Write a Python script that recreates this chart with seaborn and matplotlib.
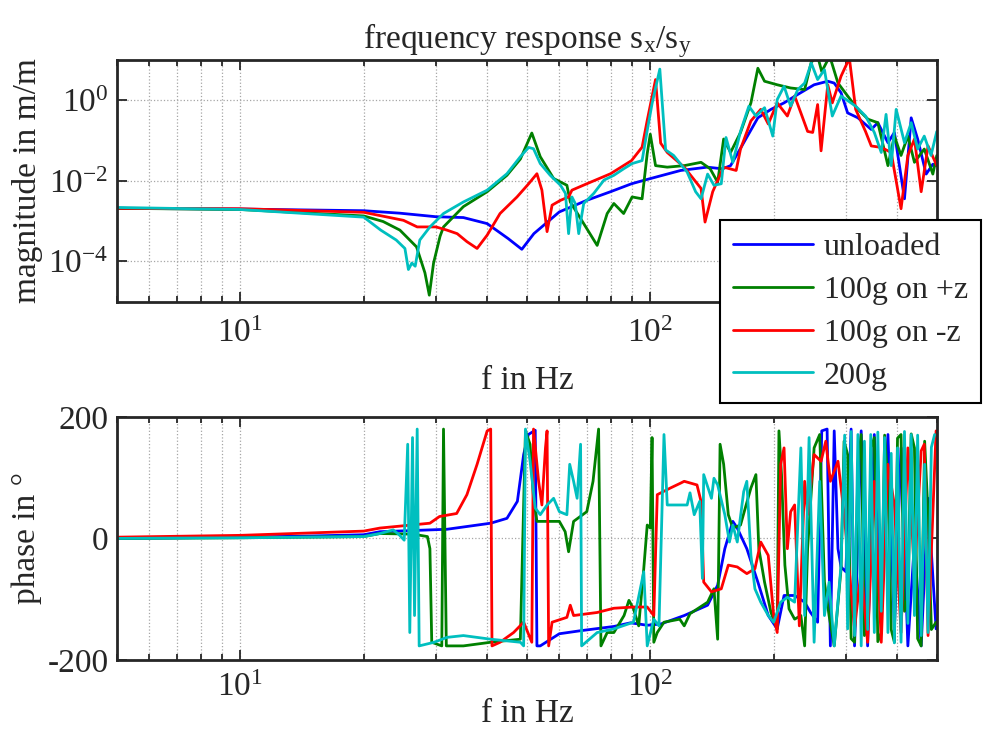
import pandas as pd
import seaborn as sns
import matplotlib.pyplot as plt
from matplotlib.ticker import FixedLocator, NullLocator, LogLocator, NullFormatter

# --- magnitude |s_x/s_y| ---
f_mag_unloaded = [5, 7, 10, 14, 20, 24.5, 30, 35, 40, 45, 48.6, 52, 60, 70, 80, 90, 97.6, 118.6,
                  137.7, 150, 157, 169, 183, 197, 212, 229, 251, 271, 281, 292, 303, 321, 346, 359,
                  380, 394, 417, 433, 449, 471, 489, 500]
mag_unloaded = [2.09e-3, 2.04e-3, 2.0e-3, 1.91e-3, 1.82e-3, 1.58e-3, 1.29e-3, 1.23e-3, 8.7e-4, 3.7e-4,
                2.0e-4, 4.9e-4, 1.7e-3, 3.3e-3, 5.4e-3, 8.5e-3, 1.07e-2, 1.82e-2, 2.2e-2, 2.0e-2,
                2.4e-2, 8.9e-2, 0.37, 0.60, 0.87, 1.41, 2.45, 3.0, 2.7, 1.55,
                0.49, 0.37, 0.19, 0.28, 8.9e-2, 0.16, 3.6e-3, 0.37, 0.11, 1.48e-2, 2.6e-2, 2.4e-2]

f_mag_plus = [5, 10, 20, 22.3, 24.5, 26.9, 28.2, 28.9, 29.6, 30.7, 31.3, 35, 40, 44.7, 48.2, 51.4,
              53.9, 58.1, 62.6, 63.8, 68.8, 74.2, 78.5, 81.5, 86.1, 90.3, 95.5, 98.3, 100, 103,
              110, 121, 133, 140, 146, 151, 157, 166, 176, 183, 190, 204, 220, 238, 247, 256, 262,
              274, 287, 303, 321, 340, 359, 380, 394, 409, 425, 441, 466, 489, 500]
mag_plus = [2.09e-3, 1.95e-3, 1.35e-3, 9.8e-4, 6.0e-4, 2.3e-4, 5.2e-5, 1.45e-5, 9.1e-5, 4.2e-4,
            7.2e-4, 2.3e-3, 5.4e-3, 1.38e-2, 3.5e-2, 0.155, 4.0e-2, 1.15e-2, 7.8e-3, 3.0e-3,
            8.7e-4, 2.5e-4, 1.55e-3, 2.75e-3, 1.55e-3, 4.0e-3, 3.6e-3, 4.8e-2, 0.145, 2.4e-2,
            2.2e-2, 2.4e-2, 2.9e-2, 2.0e-2, 9.3e-3, 0.11, 5.1e-2, 0.16, 0.87, 6.3,
            3.0, 2.45, 2.04, 1.86, 8.9, 12.6, 5.2, 12.6, 2.7, 1.29,
            0.60, 0.34, 0.28, 2.4e-2, 0.13, 4.3e-2, 0.13, 2.9e-2, 6.2e-2, 1.48e-2, 4.3e-2]

f_mag_minus = [5, 10, 20, 25, 27, 30, 31.9, 33.8, 35.7, 37.8, 40, 43, 47.3, 50.5, 52.9, 54.4, 56,
               57.6, 60.4, 63.2, 64.4, 70, 80, 90, 95.5, 98.3, 103, 106, 110, 121, 133, 136, 142,
               151, 162, 166, 176, 186, 194, 204, 216, 225, 233, 242, 249, 256, 261, 271, 278, 292,
               306, 317, 335, 346, 366, 387, 409, 425, 441, 458, 476, 500]
mag_minus = [2.09e-3, 2.04e-3, 1.66e-3, 1.05e-3, 7.2e-4, 7.2e-4, 6.0e-4, 4.9e-4, 3.1e-4, 2.1e-4,
             4.5e-4, 1.55e-3, 4.0e-3, 8.5e-3, 1.51e-2, 5.9e-3, 5.5e-4, 2.5e-3, 3.3e-3, 4.0e-3,
             5.9e-3, 8.5e-3, 1.51e-2, 3.2e-2, 6.9e-2, 0.32, 3.3, 8.7e-2, 5.1e-2, 2.2e-2,
             6.5e-3, 9.5e-4, 5.4e-3, 2.2e-2, 1.82e-2, 6.2e-2, 0.31, 0.60, 0.26, 0.87,
             0.41, 1.29, 0.49, 0.17, 0.16, 0.79, 5.6e-2, 2.45, 0.87, 4.0,
             11.2, 0.60, 0.17, 7.4e-2, 6.8e-2, 5.1e-2, 2.04e-3, 4.3e-2, 0.11, 5.4e-3, 7.4e-2, 2.4e-2]

f_mag_200 = [5, 10, 20, 22, 24, 25.2, 25.7, 26.2, 26.7, 27.4, 29, 31.3, 35, 40, 44.7, 48.2, 50.5,
             51.9, 53.9, 57, 60.4, 62.1, 63.2, 64.4, 65.6, 66.9, 68.8, 72.8, 77.1, 81.5, 86.1, 90.3,
             95.5, 98.3, 101, 105.5, 109, 114, 123, 129, 133, 138, 143, 149, 153, 159, 166, 174,
             181, 190, 199, 204, 212, 220, 229, 238, 247, 256, 266, 278, 292, 317, 335, 352, 366,
             376, 387, 398, 417, 433, 449, 466, 484, 500]
mag_200 = [2.19e-3, 1.95e-3, 1.26e-3, 6.0e-4, 3.4e-4, 2.1e-4, 6.3e-5, 9.1e-5, 7.6e-5, 3.4e-4,
           7.2e-4, 1.55e-3, 3.0e-3, 5.9e-3, 1.51e-2, 4.0e-2, 6.8e-2, 6.3e-2, 2.7e-2, 1.38e-2,
           7.8e-3, 4.9e-3, 4.9e-4, 4.0e-3, 2.75e-3, 4.9e-4, 2.75e-3, 4.9e-3, 1.05e-2, 1.38e-2,
           2.0e-2, 2.7e-2, 3.2e-2, 0.18, 0.83, 6.0, 5.9e-2, 4.3e-2, 1.66e-2, 5.4e-3,
           3.6e-3, 1.48e-2, 7.8e-3, 8.5e-3, 0.12, 2.9e-2, 0.17, 0.72, 0.41, 0.66,
           0.13, 1.05, 2.24, 0.72, 1.86, 2.7, 8.5, 3.3, 5.8, 0.41,
           1.29, 0.72, 0.41, 0.16, 5.1e-2, 0.45, 2.4e-2, 0.60, 8.9e-2, 0.28,
           6.2e-2, 0.13, 4.3e-2, 0.17]

# --- phase in degrees ---
f_ph_unloaded = [5, 10, 15, 20, 21.9, 31.9, 40.8, 44.7, 47.4, 49.1, 50.4, 52.4, 52.9, 53.9, 60, 67.6,
                 81.5, 89.5, 98.3, 106, 121, 138, 146, 152, 159, 163, 172, 183, 194, 204, 212, 225,
                 238, 246, 256, 262, 270, 275, 281, 287, 292, 300, 309, 315, 327, 339, 352, 366, 380,
                 394, 409, 425, 441, 458, 476, 498]
ph_unloaded = [0, 2, 4, 6, 11, 15, 25, 33, 61, 138, 171, 178, -177, -177, -157, -152, -145, -139, -143,
               -141, -127, -110, -77, -17, 28, 17, -17, -72, -127, -149, -94, -94, -105, -122, -138,
               177, 180, -177, 177, -17, -47, -55, 180, -177, 177, -177, 171, -127, 171, -149, 149,
               -177, -6, -177, 66, -149]

f_ph_plus = [5, 10, 20, 21.9, 26.4, 28.6, 29, 29.3, 31, 31.3, 31.8, 35, 40.8, 48.2, 49.6, 50.9, 51.9,
             52.9, 60, 62, 63.2, 65, 70, 72.5, 74.8, 75.8, 78.5, 81.5, 86.3, 88.7, 91, 93.7, 96.4,
             98.3, 100, 101, 102, 104, 108, 118, 121, 125, 138, 143, 146, 148, 151, 155, 159, 166,
             176, 181, 184, 190, 197, 204, 206, 209, 213, 218, 225, 233, 238, 242, 251, 259, 266,
             273, 281, 292, 297, 303, 309, 315, 321, 327, 333, 339, 346, 352, 359, 366, 373, 380,
             387, 394, 401, 409, 417, 425, 433, 441, 449, 458, 467, 476, 485, 498]
ph_plus = [0, 1, 3, 8, 7, 3, -17, -171, -177, 180, -177, -177, -171, -166, 177, 155, 66, 28, 28, 11,
           -22, 28, 44, 94, 180, -177, -155, -155, -127, -102, -116, -144, -50, 22, 17, 166, -171,
           -155, -138, -133, -144, -124, -105, -83, -166, 155, 122, 39, 17, 22, 83, 105, -17, -72,
           -122, -149, 177, 105, -44, -116, -133, -127, -177, -17, 149, 171, -72, -127, -177, -50,
           160, 138, -165, -171, 120, 171, -160, -127, 150, 166, -170, -155, 170, 94,
           -150, -171, 165, 171, -120, -99, 172, 149, -165, -177, 160, 39, -150, -138]

f_ph_minus = [5, 10, 20, 21.9, 29, 30.6, 33.7, 35.7, 37.8, 40, 40.8, 41.1, 43, 46.4, 49.1, 51.4, 51.9,
              53.4, 54.4, 55.5, 56, 56.5, 57.6, 62.6, 63.8, 65, 74.2, 81.5, 91, 98.3, 102, 104, 112,
              118.6, 121, 130, 133, 135, 141, 149, 155, 163, 172, 180, 186, 194, 200, 204, 208, 212,
              216, 220, 225, 231, 238, 242, 251, 261, 268, 275, 287, 297, 315, 327, 339, 352, 366,
              380, 394, 409, 425, 441, 458, 466, 476, 498]
ph_minus = [2, 5, 12, 17, 25, 36, 41, 72, 122, 177, 180, -177, -171, -155, -138, -171, 180, 94, 55,
            149, 177, -177, -138, -130, -110, -127, -122, -115, -113, -113, -127, 72, 83, 91, 94, 88,
            61, -72, -88, -83, -44, -47, -58, -50, -6, -28, -127, -155, 122, 149, -17, 44, 55, -144,
            94, 39, 138, 127, 160, 94, 127, 41, -149, -50, -171, 94, -171, 122, 55, -155, 149, -61,
            144, 155, -160, 177]

f_ph_200 = [5, 10, 20, 21.9, 23.6, 24.4, 25.1, 25.6, 25.9, 26.3, 26.6, 27, 27.3, 29.7, 31.9, 35, 40.8,
            48.2, 49.1, 49.6, 50.9, 52.4, 53.9, 56, 58.1, 60, 62.6, 63.6, 65, 66.3, 67.6, 68, 74.2,
            81.5, 91, 96.4, 98.3, 102, 105, 108, 110, 123, 125, 128, 132, 134, 135, 141, 143, 146,
            152, 156, 159, 163, 169, 172, 176, 180, 186, 194, 200, 208, 216, 225, 233, 238, 244,
            251, 259, 266, 273, 281, 292, 298, 303, 309, 315, 321, 327, 333, 339, 345, 352, 359,
            366, 373, 380, 387, 394, 401, 409, 417, 425, 433, 441, 449, 458, 467, 476, 485, 494]
ph_200 = [0, 1, 3, 8, 14, 6, -3, 155, -155, 166, -127, 180, -177, -171, -163, -160, -166, -171, -177,
          180, 127, 50, 39, 55, 66, 44, 39, 122, 94, 66, 155, -177, -155, -149, -138, -55, -177, -133,
          -144, 171, 55, 55, 75, 39, 61, -66, 105, 66, 99, 88, 39, -6, 22, -6, 77, 94, -28, -83, -105,
          -127, -138, -105, -97, -105, 149, -127, 166, -171, 94, -127, -72, -177, -44, 170, -149,
          176, -160, 171, -177, 160, -150, 171, -155, 175, -120, 166, -155, 140, -172, 149, -171,
          176, -140, 171, -127, 170, -160, 122, -155, 150, 171]

cases = ["unloaded", "100g on +z", "100g on -z", "200g"]
colors = ["#0000FF", "#008000", "#FF0000", "#00BFBF"]


def long_table(pairs):
    frames = [pd.DataFrame({"f": f, "v": v, "case": c}) for c, (f, v) in zip(cases, pairs)]
    return pd.concat(frames, ignore_index=True)


mag = long_table([(f_mag_unloaded, mag_unloaded), (f_mag_plus, mag_plus),
                  (f_mag_minus, mag_minus), (f_mag_200, mag_200)])
phase = long_table([(f_ph_unloaded, ph_unloaded), (f_ph_plus, ph_plus),
                    (f_ph_minus, ph_minus), (f_ph_200, ph_200)])

sns.set_style("ticks")
plt.rcParams["font.family"] = ["Liberation Serif", "DejaVu Serif"]
plt.rcParams["mathtext.fontset"] = "custom"
plt.rcParams["mathtext.rm"] = "Liberation Serif"
plt.rcParams["mathtext.it"] = "Liberation Serif:italic"
plt.rcParams["axes.unicode_minus"] = False

fs = 24
fig = plt.figure(figsize=(9.83, 7.34), dpi=100)
ax1 = fig.add_axes([0.119, 0.589, 0.834, 0.329])
ax2 = fig.add_axes([0.119, 0.101, 0.834, 0.331])

sns.lineplot(data=mag, x="f", y="v", hue="case", hue_order=cases, palette=colors,
             estimator=None, sort=False, linewidth=2, ax=ax1)
sns.lineplot(data=phase, x="f", y="v", hue="case", hue_order=cases, palette=colors,
             estimator=None, sort=False, linewidth=2, legend=False, ax=ax2)

for ax in (ax1, ax2):
    ax.set_xscale("log")
    ax.set_xlim(5, 500)
    ax.xaxis.set_major_locator(LogLocator(base=10))
    ax.xaxis.set_minor_locator(LogLocator(base=10, subs=range(2, 10)))
    ax.xaxis.set_minor_formatter(NullFormatter())
    ax.grid(True, which="major", linestyle=":", color="0.65", linewidth=0.9)
    ax.grid(True, which="minor", axis="x", linestyle=":", color="0.65", linewidth=0.9)
    ax.tick_params(which="both", direction="in", top=True, right=True, width=1.3, labelsize=fs)
    ax.tick_params(axis="y", pad=6)
    ax.tick_params(which="major", length=7)
    ax.tick_params(which="minor", length=4)
    for s in ax.spines.values():
        s.set_linewidth(2)

ax1.tick_params(axis="x", pad=12)
ax2.tick_params(axis="x", pad=9)
ax1.set_xlabel("f in Hz", fontsize=fs, labelpad=12)
ax2.set_xlabel("f in Hz", fontsize=fs, labelpad=-3)

ax1.set_yscale("log")
ax1.set_ylim(1e-5, 10)
ax1.yaxis.set_major_locator(FixedLocator([1e-4, 1e-2, 1e0]))
ax1.yaxis.set_minor_locator(NullLocator())
ax1.set_ylabel("magnitude in m/m", fontsize=fs, labelpad=4)
ax1.set_title(r"frequency response s$_\mathrm{x}$/s$_\mathrm{y}$", fontsize=fs, pad=6)

ax2.set_ylim(-200, 200)
ax2.set_yticks([-200, 0, 200])
ax2.set_ylabel("phase in °", fontsize=fs, labelpad=4)

sns.move_legend(ax1, "upper left", bbox_to_anchor=(0.7325, 0.70), bbox_transform=fig.transFigure,
                borderaxespad=0, title=None, frameon=True, fancybox=False, fontsize=23,
                handlelength=2.5, handletextpad=0.35, labelspacing=0.42, borderpad=0.4,
                edgecolor="black", framealpha=1)
leg = ax1.get_legend()
leg.get_frame().set_linewidth(1.5)
for h in leg.get_lines():
    h.set_linewidth(2)

fig.savefig("out.png", dpi=100)
